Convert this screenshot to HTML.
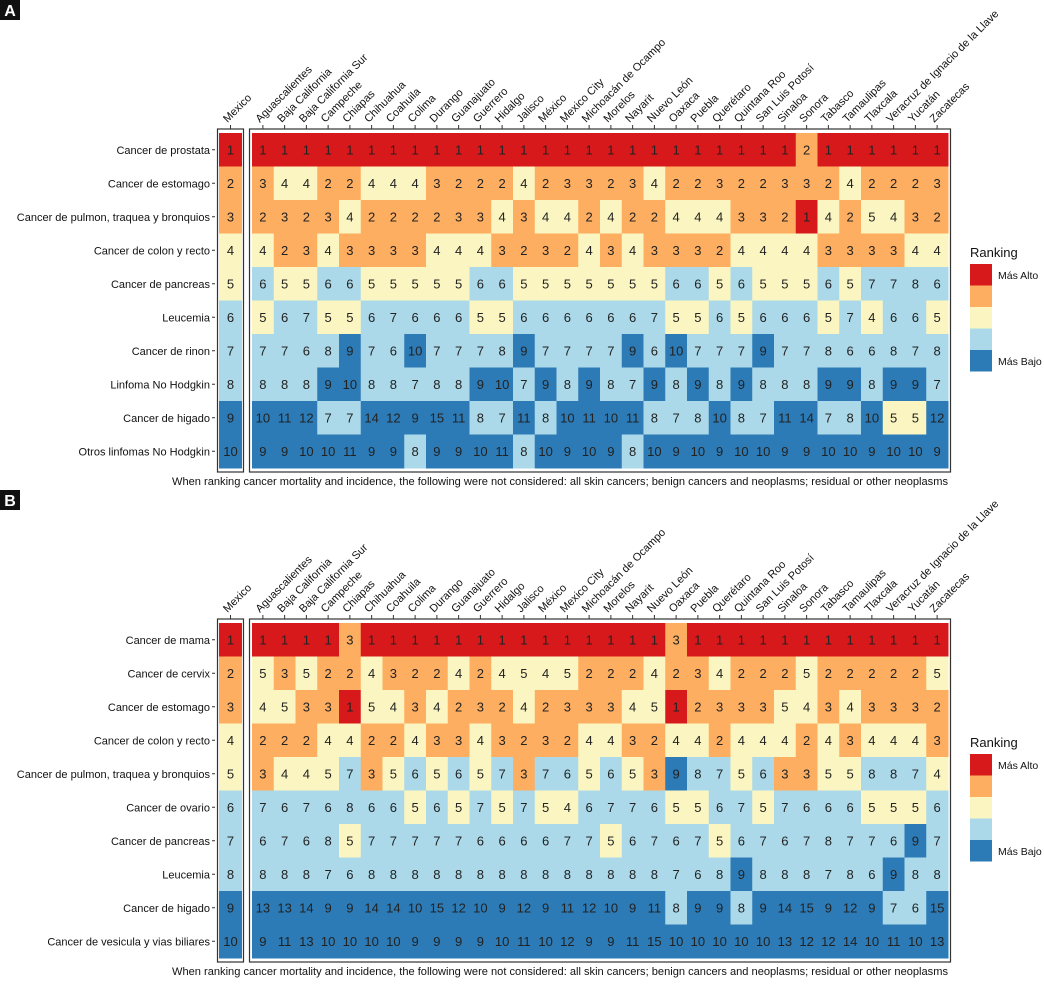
<!DOCTYPE html>
<html><head><meta charset="utf-8">
<style>
body{margin:0;background:#fff;font-family:"Liberation Sans",Arial,sans-serif;}
svg text{font-family:"Liberation Sans",Arial,sans-serif;}
</style></head>
<body>
<svg id="chart" width="1044" height="980" xmlns="http://www.w3.org/2000/svg"></svg>
<script>
const states=["Aguascalientes","Baja California","Baja California Sur","Campeche","Chiapas","Chihuahua","Coahuila","Colima","Durango","Guanajuato","Guerrero","Hidalgo","Jalisco","México","Mexico City","Michoacán de Ocampo","Morelos","Nayarit","Nuevo León","Oaxaca","Puebla","Querétaro","Quintana Roo","San Luis Potosí","Sinaloa","Sonora","Tabasco","Tamaulipas","Tlaxcala","Veracruz de Ignacio de la Llave","Yucatán","Zacatecas"];
const rowsA=["Cancer de prostata","Cancer de estomago","Cancer de pulmon, traquea y bronquios","Cancer de colon y recto","Cancer de pancreas","Leucemia","Cancer de rinon","Linfoma No Hodgkin","Cancer de higado","Otros linfomas No Hodgkin"];
const valuesA=[
[1,1,1,1,1,1,1,1,1,1,1,1,1,1,1,1,1,1,1,1,1,1,1,1,1,2,1,1,1,1,1,1],
[3,4,4,2,2,4,4,4,3,2,2,2,4,2,3,3,2,3,4,2,2,3,2,2,3,3,2,4,2,2,2,3],
[2,3,2,3,4,2,2,2,2,3,3,4,3,4,4,2,4,2,2,4,4,4,3,3,2,1,4,2,5,4,3,2],
[4,2,3,4,3,3,3,3,4,4,4,3,2,3,2,4,3,4,3,3,3,2,4,4,4,4,3,3,3,3,4,4],
[6,5,5,6,6,5,5,5,5,5,6,6,5,5,5,5,5,5,5,6,6,5,6,5,5,5,6,5,7,7,8,6],
[5,6,7,5,5,6,7,6,6,6,5,5,6,6,6,6,6,6,7,5,5,6,5,6,6,6,5,7,4,6,6,5],
[7,7,6,8,9,7,6,10,7,7,7,8,9,7,7,7,7,9,6,10,7,7,7,9,7,7,8,6,6,8,7,8],
[8,8,8,9,10,8,8,7,8,8,9,10,7,9,8,9,8,7,9,8,9,8,9,8,8,8,9,9,8,9,9,7],
[10,11,12,7,7,14,12,9,15,11,8,7,11,8,10,11,10,11,8,7,8,10,8,7,11,14,7,8,10,5,5,12],
[9,9,10,10,11,9,9,8,9,9,10,11,8,10,9,10,9,8,10,9,10,9,10,10,9,9,10,10,9,10,10,9]];
const rowsB=["Cancer de mama","Cancer de cervix","Cancer de estomago","Cancer de colon y recto","Cancer de pulmon, traquea y bronquios","Cancer de ovario","Cancer de pancreas","Leucemia","Cancer de higado","Cancer de vesicula y vias biliares"];
const valuesB=[
[1,1,1,1,3,1,1,1,1,1,1,1,1,1,1,1,1,1,1,3,1,1,1,1,1,1,1,1,1,1,1,1],
[5,3,5,2,2,4,3,2,2,4,2,4,5,4,5,2,2,2,4,2,3,4,2,2,2,5,2,2,2,2,2,5],
[4,5,3,3,1,5,4,3,4,2,3,2,4,2,3,3,3,4,5,1,2,3,3,3,5,4,3,4,3,3,3,2],
[2,2,2,4,4,2,2,4,3,3,4,3,2,3,2,4,4,3,2,4,4,2,4,4,4,2,4,3,4,4,4,3],
[3,4,4,5,7,3,5,6,5,6,5,7,3,7,6,5,6,5,3,9,8,7,5,6,3,3,5,5,8,8,7,4],
[7,6,7,6,8,6,6,5,6,5,7,5,7,5,4,6,7,7,6,5,5,6,7,5,7,6,6,6,5,5,5,6],
[6,7,6,8,5,7,7,7,7,7,6,6,6,6,7,7,5,6,7,6,7,5,6,7,6,7,8,7,7,6,9,7],
[8,8,8,7,6,8,8,8,8,8,8,8,8,8,8,8,8,8,8,7,6,8,9,8,8,8,7,8,6,9,8,8],
[13,13,14,9,9,14,14,10,15,12,10,9,12,9,11,12,10,9,11,8,9,9,8,9,14,15,9,12,9,7,6,15],
[9,11,13,10,10,10,10,9,9,9,9,10,11,10,12,9,9,11,15,10,10,10,10,10,13,12,12,14,10,11,10,13]];
const natA=[1,2,3,4,5,6,7,8,9,10];
const natB=[1,2,3,4,5,6,7,8,9,10];
const footnote="When ranking cancer mortality and incidence, the following were not considered: all skin cancers; benign cancers and neoplasms; residual or other neoplasms";

const svg=document.getElementById('chart');
const NS="http://www.w3.org/2000/svg";
function mk(t,a,p){const e=document.createElementNS(NS,t);for(const k in a)e.setAttribute(k,a[k]);(p||svg).appendChild(e);return e;}
function col(v){return v<=1?"#d7191c":v<=3?"#fdae61":v<=5?"#fbf6c1":v<=8?"#abd9e9":"#2c7bb6";}
const X0=252,X1=948,CW=(X1-X0)/32,MX0=219,MX1=242,RH=33.5;
const xs=i=>X0+CW*i;

function panel(top,letter,rows,vals,nat,key){
  const g=mk('g',{});
  
  
  mk('rect',{x:0,y:top-133,width:20,height:20,fill:'#111'},g);
  const lt=mk('text',{x:10,y:top-117,'text-anchor':'middle','font-size':16,'font-weight':'bold',fill:'#fff'},g);
  lt.textContent=letter;
  
  
  mk('rect',{x:MX0-1.5,y:top-4,width:MX1-MX0+3,height:RH*10+8,fill:'none',stroke:'#333','stroke-width':1.2},g);
  mk('rect',{x:X0-2.5,y:top-4,width:X1-X0+5,height:RH*10+8,fill:'none',stroke:'#333','stroke-width':1.2},g);
  nat.forEach((v,r)=>{
    const c=mk('rect',{x:MX0,y:top+r*RH,width:MX1-MX0,height:RH+0.5,fill:col(v)},g);
    
    
    const t=mk('text',{x:(MX0+MX1)/2,y:top+r*RH+RH/2+4.5,'text-anchor':'middle','font-size':13,fill:'#222'},g);
    t.textContent=v;
  });
  vals.forEach((row,r)=>row.forEach((v,i)=>{
    const c=mk('rect',{x:xs(i),y:top+r*RH,width:CW+0.5,height:RH+0.5,fill:col(v)},g);
    
    
    const t=mk('text',{x:xs(i)+CW/2,y:top+r*RH+RH/2+4.5,'text-anchor':'middle','font-size':13,fill:'#222'},g);
    t.textContent=v;
  }));
  rows.forEach((n,r)=>{
    const y=top+r*RH+RH/2;
    mk('line',{x1:212,x2:215,y1:y,y2:y,stroke:'#333'},g);
    const t=mk('text',{x:210,y:y+4,'text-anchor':'end','font-size':11,fill:'#111'},g);
    t.textContent=n;
    
    
  });
  const colLab=(x,name)=>{
    mk('line',{x1:x,x2:x,y1:top-4,y2:top-8,stroke:'#333'},g);
    const t=mk('text',{x:x-3,y:top-10,'font-size':11,fill:'#111',transform:`rotate(-45 ${x-3} ${top-10})`},g);
    t.textContent=name;
    
    
  };
  colLab((MX0+MX1)/2,"Mexico");
  states.forEach((s,i)=>colLab(xs(i)+CW/2,s));
  const f=mk('text',{x:560,y:top+RH*10+17,'text-anchor':'middle','font-size':11,fill:'#111',textLength:776,lengthAdjust:'spacingAndGlyphs'},g);
  f.textContent=footnote;
  
  
  const ly=top+114;
  const lt2=mk('text',{x:970,y:ly+10,'font-size':13,fill:'#111'},g);
  lt2.textContent="Ranking";
  
  
  [1,2,4,6,9].forEach((v,k)=>{
    const s=mk('rect',{x:970,y:ly+17+k*21.5,width:22,height:21.5,fill:col(v)},g);
    
    
  });
  const a=mk('text',{x:998,y:ly+32,'font-size':10.5,fill:'#111'},g);a.textContent="Más Alto";
  
  
  const b=mk('text',{x:998,y:ly+118,'font-size':10.5,fill:'#111'},g);b.textContent="Más Bajo";
  
  
}
panel(133,"A",rowsA,valuesA,natA,'a');
panel(623,"B",rowsB,valuesB,natB,'b');
</script>
</body></html>
